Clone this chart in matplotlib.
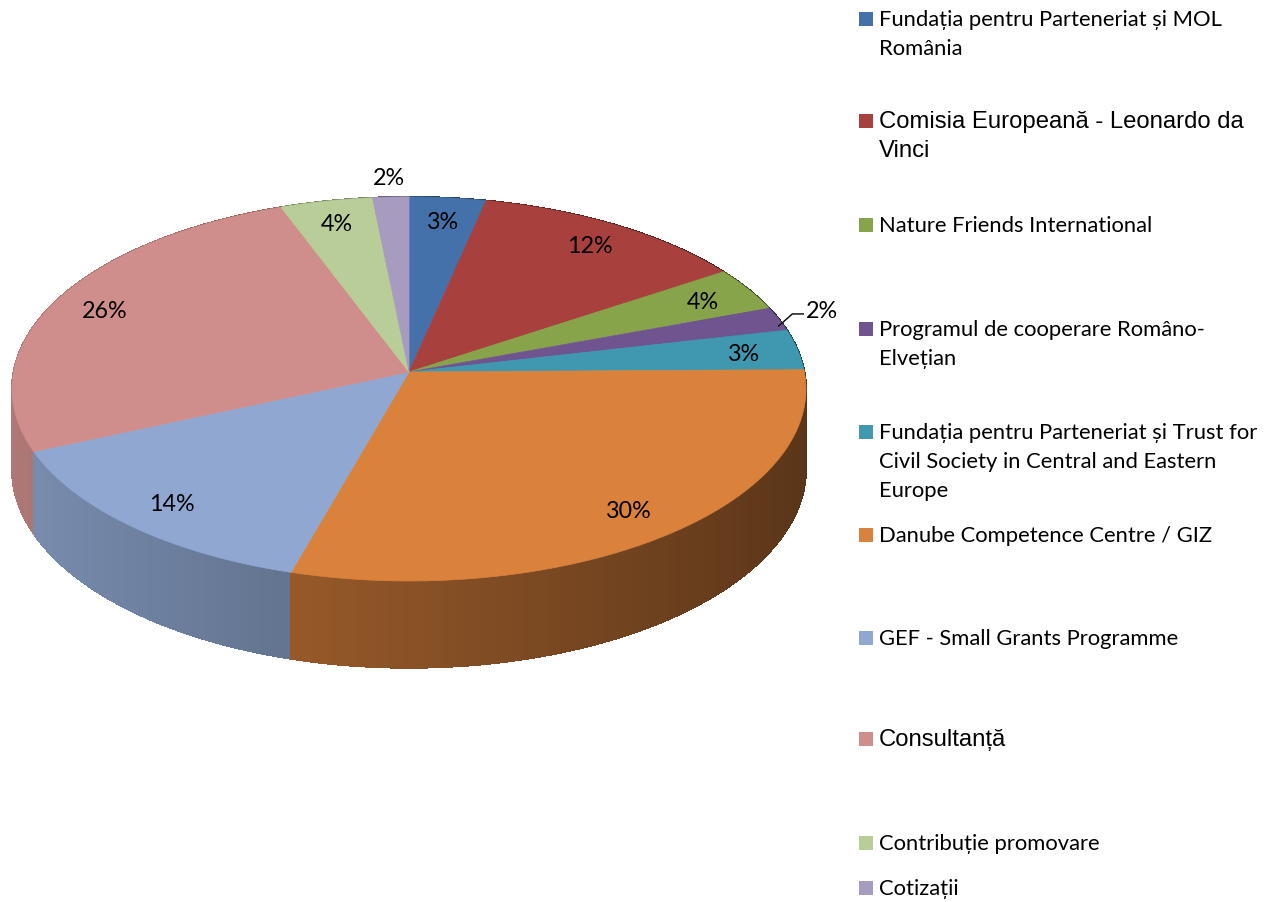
import numpy as np
import matplotlib.pyplot as plt
import matplotlib.colors as mcolors
from matplotlib.collections import PolyCollection
from matplotlib.patches import Polygon, Rectangle

names = ["Fundația pentru Parteneriat și MOL\nRomânia",
         "Comisia Europeană - Leonardo da\nVinci",
         "Nature Friends International",
         "Programul de cooperare Româno-\nElvețian",
         "Fundația pentru Parteneriat și Trust for\nCivil Society in Central and Eastern\nEurope",
         "Danube Competence Centre / GIZ",
         "GEF - Small Grants Programme",
         "Consultanță",
         "Contribuție promovare",
         "Cotizații"]
values = [3.4, 12.3, 3.7, 2.0, 3.4, 29.6, 14.0, 25.9, 4.1, 1.6]
colors = ["#4571AB", "#A8413E", "#87A44B", "#6F548F", "#3F97B0",
          "#DA813C", "#90A8D1", "#CF8E8B", "#B8CD97", "#A89BC0"]

# legend layout (pixels): y of first line of each entry, font per entry
leg_y = [18, 120, 224, 328, 431, 534, 637, 738, 842, 887]
leg_font = ["Lato", "Liberation Sans", "Lato", "Lato", "Lato",
            "Lato", "Lato", "Liberation Sans", "Lato", "Lato"]

# 3d pie geometry in pixels (simple perspective)
cx, cy = 409, 372
A, B, k, H = 395.4, 190.5, 0.0885, 79


def proj(u, v, z=0.0):
    w = 1 + k * v
    return cx + A * u / w, cy - B * v / w + z * H / w


fig = plt.figure(figsize=(12.75, 9.02), dpi=100)
ax = fig.add_axes([0, 0, 1, 1])
ax.set_xlim(0, 1275)
ax.set_ylim(902, 0)
ax.axis('off')

frac = np.array(values) / sum(values)
edges = np.concatenate([[0], np.cumsum(frac)]) * 2 * np.pi

# side walls, drawn back to front
segs = []
segcols = []
depth = []
for i in range(len(values)):
    t = np.linspace(edges[i], edges[i + 1], max(3, int(frac[i] * 500)))
    base = np.array(mcolors.to_rgb(colors[i]))
    for a, b in zip(t[:-1], t[1:]):
        m = (a + b) / 2
        pa = (np.sin(a), np.cos(a))
        pb = (np.sin(b), np.cos(b))
        segs.append([proj(*pa), proj(*pb), proj(*pb, 1), proj(*pa, 1)])
        f = np.clip(0.63 - 0.22 * np.sin(m), 0, 1)
        segcols.append(tuple(base * f))
        depth.append(np.cos(m))
order = np.argsort(-np.array(depth))
pc = PolyCollection([segs[j] for j in order],
                    facecolors=[segcols[j] for j in order],
                    edgecolors=[segcols[j] for j in order], linewidths=0.8,
                    antialiaseds=False)
ax.add_collection(pc)

# top faces
for i in range(len(values)):
    t = np.linspace(edges[i], edges[i + 1], max(3, int(frac[i] * 500)))
    pts = [proj(0, 0)] + [proj(np.sin(a), np.cos(a)) for a in t]
    ax.add_patch(Polygon(pts, closed=True, facecolor=colors[i],
                         edgecolor=colors[i], linewidth=0.5))

# data labels
for i in range(len(values)):
    m = (edges[i] + edges[i + 1]) / 2
    pct = int(round(frac[i] * 100))
    r = 0.86 if pct > 2 else 1.13
    x, y = proj(r * np.sin(m), r * np.cos(m))
    if pct <= 2 and np.sin(m) > 0.5:
        x0, y0 = proj(np.sin(m), np.cos(m))
        x1, y1 = proj(1.06 * np.sin(m), 1.06 * np.cos(m))
        ax.plot([x0, x1 - 8, x1 + 3], [y0 + 7, y1 - 2, y1 - 2],
                color='black', lw=1)
        x, y = x1 + 22, y1 - 6
    ax.text(x, y + 8, f"{pct}%", fontsize=16.8, family=["Lato", "DejaVu Sans"],
            ha='center', va='baseline', color='black')

# legend
for i in range(len(names)):
    ax.add_patch(Rectangle((859, leg_y[i] - 6), 14, 14, facecolor=colors[i],
                           edgecolor='none'))
    fs = 17.2 if leg_font[i] == "Liberation Sans" else 15.8
    for j, line in enumerate(names[i].split("\n")):
        ax.text(879, leg_y[i] + 8 + j * 28.8, line, fontsize=fs,
                family=[leg_font[i], "DejaVu Sans"], ha='left', va='baseline',
                color='black')

fig.savefig("out.png", dpi=100, facecolor='white')
